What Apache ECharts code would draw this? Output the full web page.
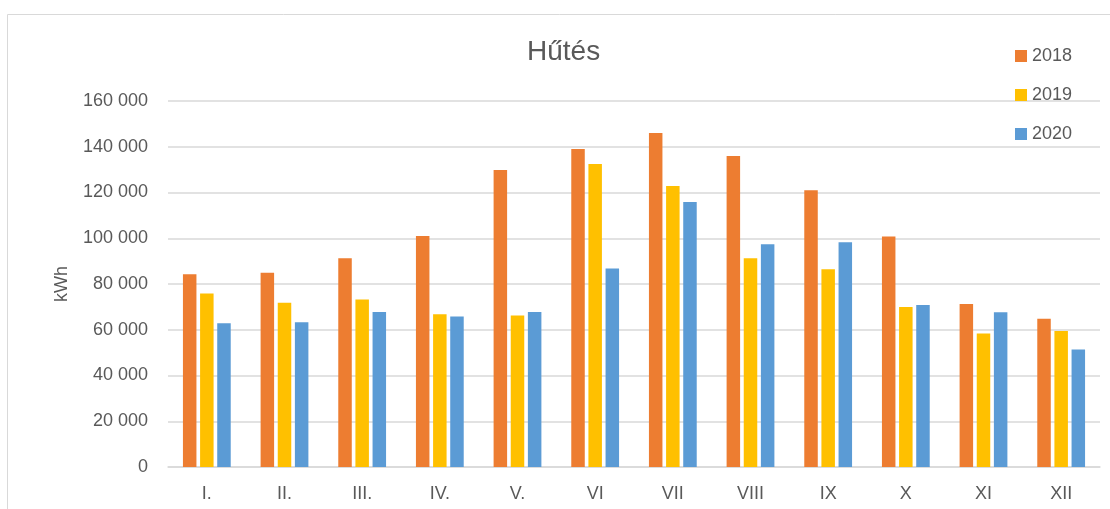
<!DOCTYPE html>
<html>
<head>
<meta charset="utf-8">
<script src="https://cdn.jsdelivr.net/npm/echarts@6/dist/echarts.min.js"></script>
<style>
    html, body { margin: 0; padding: 0; background: #fff; }
    #chart { width: 1110px; height: 509px; }
</style>
</head>
<body>
<div id="chart"></div>
<script>
// months (roman numerals as on the sheet)
const months = ['I.', 'II.', 'III.', 'IV.', 'V.', 'VI', 'VII', 'VIII', 'IX', 'X', 'XI', 'XII']
const years = ['2018', '2019', '2020']

// kWh per month
const kwh2018 = [84300, 84900, 91300, 101000, 129800, 139000, 146000, 136000, 121000, 100800, 71300, 64800]
const kwh2019 = [75900, 71800, 73200, 66800, 66200, 132500, 122800, 91300, 86400, 69900, 58400, 59400]
const kwh2020 = [62800, 63300, 67800, 65800, 67800, 86800, 115800, 97400, 98300, 70800, 67700, 51400]

const colors = ['#ED7D31', '#FFC000', '#5B9BD5']
const textColor = '#595959'
const font = 'Liberation Sans'

const chart = echarts.init(document.getElementById('chart'))

function thousands(v) {
    return String(v).replace(/\B(?=(\d{3})+(?!\d))/g, ' ')
}

const seriesData = [kwh2018, kwh2019, kwh2020]

chart.setOption({
    animation: false,
    color: colors,
    textStyle: { fontFamily: font },
    title: {
        text: 'Hűtés',
        left: 527,
        top: 38,
        padding: 0,
        textStyle: { fontSize: 28, fontWeight: 'normal', color: textColor, fontFamily: font }
    },
    legend: {
        data: years,
        orient: 'vertical',
        left: 1015,
        top: 47,
        padding: 0,
        itemWidth: 12,
        itemHeight: 12,
        itemGap: 21,
        icon: 'rect',
        textStyle: { fontSize: 18, color: textColor, fontFamily: font }
    },
    graphic: [{
        type: 'rect',
        silent: true,
        shape: { x: 7.5, y: 14.5, width: 1300, height: 600 },
        style: { fill: 'none', stroke: '#d9d9d9', lineWidth: 1 }
    }],
    grid: {
        left: 168,
        right: 10,
        top: 101,
        bottom: 42
    },
    xAxis: {
        type: 'category',
        data: months,
        axisTick: { show: false },
        axisLine: { lineStyle: { color: '#d9d9d9', width: 1.5 } },
        axisLabel: { color: textColor, fontSize: 18, margin: 18, fontFamily: font }
    },
    yAxis: {
        type: 'value',
        min: 0,
        max: 160000,
        interval: 20000,
        name: 'kWh',
        nameLocation: 'middle',
        nameGap: 97,
        nameTextStyle: { color: textColor, fontSize: 18, fontFamily: font },
        axisLine: { show: false },
        axisTick: { show: false },
        splitLine: { lineStyle: { color: '#d9d9d9', width: 1.5 } },
        axisLabel: {
            color: textColor,
            fontSize: 18,
            margin: 20,
            fontFamily: font,
            formatter: thousands
        }
    },
    series: years.map((name, i) => ({
        name: name,
        type: 'bar',
        barWidth: 13.5,
        barGap: '27%',
        data: seriesData[i],
        itemStyle: { color: colors[i] }
    }))
})
</script>
</body>
</html>
